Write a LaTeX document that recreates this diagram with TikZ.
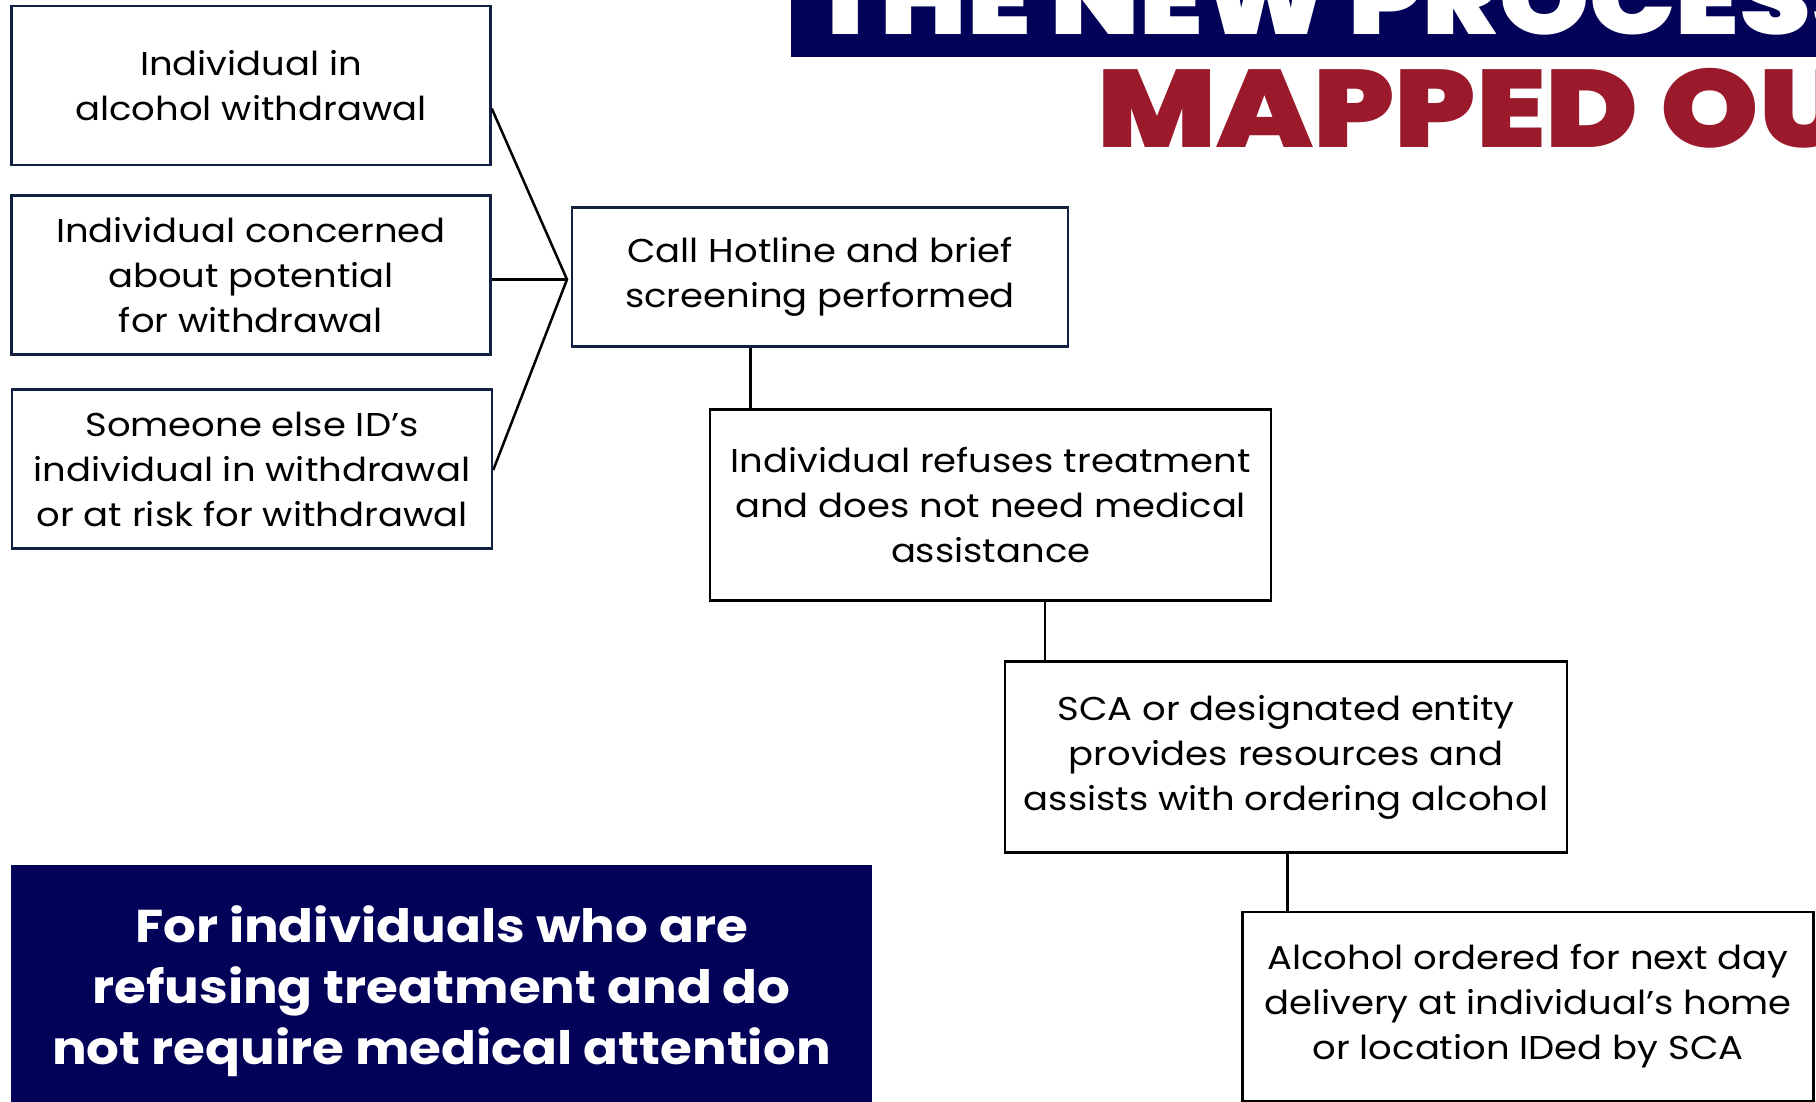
\documentclass[tikz,border=0pt]{standalone}
\usepackage{fontspec}
\setmainfont{Poppins}[FakeStretch=1.12]
\newfontfamily\heavyfont{Poppins Black}[FakeStretch=1.14]
\newfontfamily\heavyfontw{Poppins Black}[FakeStretch=1.145]
\definecolor{navy}{RGB}{2,2,88}
\definecolor{boxnavy}{RGB}{18,32,66}
\definecolor{brickred}{RGB}{154,26,43}
\begin{document}
\begin{tikzpicture}[x=1pt,y=-1pt,
  flowbox/.style={draw=black, line width=2.5pt, align=center, inner sep=0pt,
    font=\fontsize{33}{45}\selectfont, text=black},
  leftbox/.style={flowbox, draw=boxnavy},
  link/.style={line width=2.5pt, draw=black},
  banner/.style={fill=navy, draw=none},
  titletext/.style={inner sep=0pt, anchor=base west}]
\useasboundingbox[fill=white] (0,0) rectangle (1816,1102);

% title
\fill[navy] (791,-10) rectangle (1830,56.7);
\node[titletext, text=white, font=\heavyfontw\fontsize{100}{120}\selectfont] (t1) at (810,35) {THE NEW PROCESS};
\node[titletext, text=brickred, font=\heavyfont\fontsize{110}{132}\selectfont] (t2) at (1097,147.3) {MAPPED OUT};

% left boxes
\node[leftbox, minimum width=479, minimum height=159] (b1) at (251,85.5) {Individual in\\alcohol withdrawal};
\node[leftbox, minimum width=479, minimum height=159] (b2) at (251,275) {Individual concerned\\about potential\\for withdrawal};
\node[leftbox, minimum width=480, minimum height=159] (b3) at (252,469) {Someone else ID’s\\individual in withdrawal\\or at risk for withdrawal};

% flow boxes
\node[leftbox, minimum width=496, minimum height=139] (hot) at (820,277) {Call Hotline and brief\\screening performed};
\node[flowbox, minimum width=561, minimum height=191] (ref) at (990.7,505) {Individual refuses treatment\\and does not need medical\\assistance};
\node[flowbox, minimum width=562, minimum height=191] (sca) at (1286,757.2) {SCA or designated entity\\provides resources and\\assists with ordering alcohol};
\node[flowbox, minimum width=571, minimum height=189] (alc) at (1528,1006.5) {Alcohol ordered for next day\\delivery at individual’s home\\or location IDed by SCA};

% connectors
\coordinate (J) at (567,279.5);
\draw[link] ([yshift=-23pt]b1.east) -- (J) -- ([yshift=-1pt]b3.east);
\draw[link] ([yshift=-4.5pt]b2.east) -- (J);
\draw[link] ([xshift=41.7pt]ref.north west) -- ([xshift=41.7pt]ref.north west |- hot.south);
\draw[link] ([xshift=41pt]sca.north west) -- ([xshift=41pt]sca.north west |- ref.south);
\draw[link] ([xshift=46.4pt]alc.north west) -- ([xshift=46.4pt]alc.north west |- sca.south);

% bottom-left banner
\node[banner, minimum width=861, minimum height=252, text=white, align=center,
  font=\bfseries\fontsize{46}{61}\selectfont] (note) at (441.5,991)
  {For individuals who are\\refusing treatment and do\\not require medical attention};
\end{tikzpicture}
\end{document}
